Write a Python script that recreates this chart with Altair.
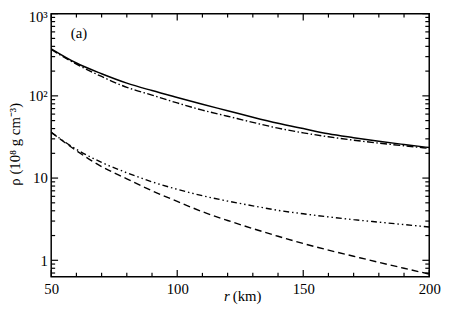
import altair as alt
import pandas as pd

# ---- data ----
r_km = [50, 60, 70, 80, 90, 100, 110, 120, 130, 140, 150, 160, 170, 180, 190, 200]
rho_solid = [374, 251, 186, 143, 116, 95.5, 79, 66, 55, 46.4, 40, 34.6, 31, 28, 25.6, 23.5]
rho_dashdot = [366, 243, 172, 127, 102, 82, 67, 56.5, 47.6, 40.5, 35.5, 31.8, 28.9, 26.6, 24.7, 23.0]
rho_dashdotdot = [36, 22.4, 15.5, 11.6, 9.0, 7.3, 6.1, 5.25, 4.6, 4.05, 3.68, 3.37, 3.12, 2.91, 2.72, 2.54]
rho_dashed = [36, 21.5, 13.8, 9.8, 7.0, 5.2, 3.9, 3.05, 2.43, 1.96, 1.60, 1.33, 1.12, 0.944, 0.80, 0.68]

x_major = [50, 100, 150, 200]
x_minor = [60, 70, 80, 90, 110, 120, 130, 140, 160, 170, 180, 190]
y_major = [1, 10, 100, 1000]
y_minor = [0.7, 0.8, 0.9, 2, 3, 4, 5, 6, 7, 8, 9,
           20, 30, 40, 50, 60, 70, 80, 90,
           200, 300, 400, 500, 600, 700, 800, 900]

W, H = 385, 268
FONT = "Liberation Serif, Times New Roman, serif"

xs = alt.Scale(domain=[50, 200], nice=False, zero=False)
ys = alt.Scale(type="log", domain=[0.63, 1000], nice=False)

x_axis = alt.Axis(values=x_major, ticks=False, tickSize=0, domain=False, grid=False,
                  labelFont=FONT, labelFontSize=15, labelColor="black",
                  labelFlush=False, labelOverlap=False,
                  labelPadding=5, labelAngle=0, title=None)
y_axis = alt.Axis(values=y_major, ticks=False, tickSize=0, domain=False, grid=False,
                  labelFont=FONT, labelFontSize=15, labelColor="black",
                  labelFlush=False, labelOverlap=False,
                  labelPadding=4, title=None,
                  labelOffset={"condition": {"test": "datum.value >= 999", "value": 3}, "value": 0},
                  labelExpr="datum.value >= 999 ? '10³' : datum.value >= 99 ? '10²' : datum.value >= 9 ? '10' : '1'")


def curve(values, dash, width):
    d = pd.DataFrame({"r": r_km, "rho": values})
    kw = dict(color="black", strokeWidth=width, interpolate="monotone")
    if dash:
        kw["strokeDash"] = dash
    return alt.Chart(d).mark_line(**kw).encode(
        x=alt.X("r:Q", scale=xs, axis=x_axis),
        y=alt.Y("rho:Q", scale=ys, axis=y_axis),
    )


lines = [
    curve(rho_solid, None, 1.5),
    curve(rho_dashdot, [7, 2.5, 1.5, 2.5], 1.4),
    curve(rho_dashdotdot, [6, 3, 1.5, 3, 1.5, 3], 1.4),
    curve(rho_dashed, [7, 4], 1.4),
]


def yticks(vals, length):
    d = pd.DataFrame({"rho": vals})
    base = alt.Chart(d).mark_rule(color="black", strokeWidth=1.2)
    left = base.encode(y=alt.Y("rho:Q", scale=ys, axis=y_axis), x=alt.value(0), x2=alt.value(length))
    right = base.encode(y=alt.Y("rho:Q", scale=ys, axis=y_axis), x=alt.value(W - length), x2=alt.value(W))
    return [left, right]


def xticks(vals, length):
    d = pd.DataFrame({"r": vals})
    base = alt.Chart(d).mark_rule(color="black", strokeWidth=1.2)
    bottom = base.encode(x=alt.X("r:Q", scale=xs, axis=x_axis), y=alt.value(H - length), y2=alt.value(H))
    top = base.encode(x=alt.X("r:Q", scale=xs, axis=x_axis), y=alt.value(0), y2=alt.value(length))
    return [bottom, top]


tick_layers = yticks(y_major, 7) + yticks(y_minor, 4) + xticks(x_major, 7) + xticks(x_minor, 4)


def label(text, x, y, angle=0, align="left", style="normal", baseline="alphabetic"):
    kw = dict(font=FONT, fontSize=15, color="black", align=align, baseline=baseline, fontStyle=style)
    if angle:
        kw["angle"] = angle
    return alt.Chart(pd.DataFrame({"t": [text]})).mark_text(**kw).encode(
        text="t:N", x=alt.value(x), y=alt.value(y))


texts = [
    label("(a)", 20, 25),
    label("r", 176, 293, style="italic"),
    label("(km)", 185, 293),
    label("ρ (10⁸ g cm⁻³)", -37, 133, angle=270, align="center", baseline="middle"),
]

chart = alt.layer(*lines, *tick_layers, *texts).properties(
    width=W, height=H,
    autosize=alt.AutoSizeParams(type="none"),
    padding={"left": 44, "top": 3, "right": 13, "bottom": 27},
).configure_view(stroke="black", strokeWidth=1.5)

chart.save("out.html", embed_options={"renderer": "svg", "actions": False})
